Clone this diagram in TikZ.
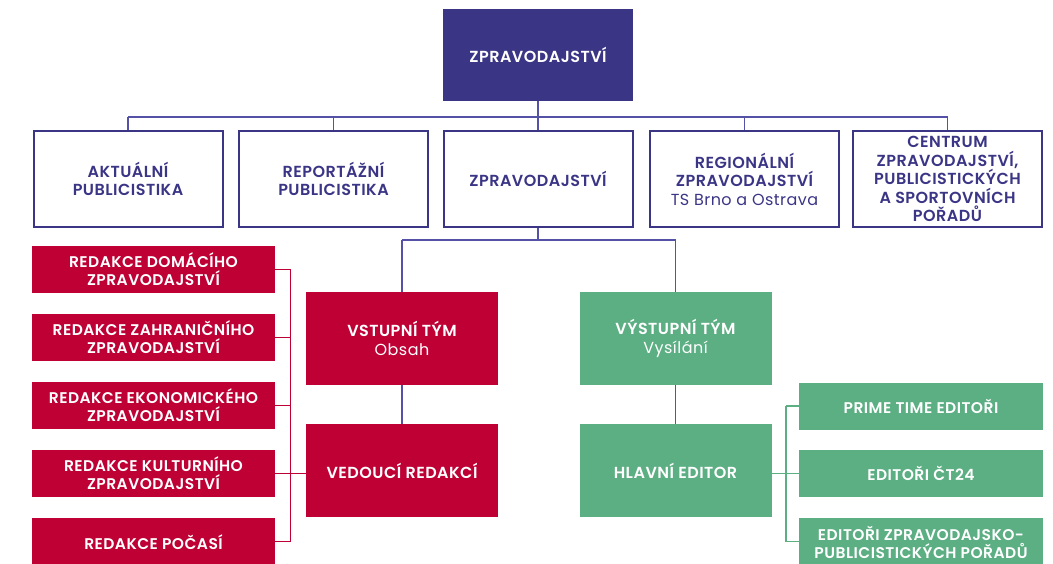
\documentclass[tikz,border=0pt]{standalone}
\usepackage{fontspec}
\setmainfont{Poppins}[BoldFont={Poppins SemiBold}, LetterSpace=3]
\definecolor{ctpurple}{HTML}{3B3586}
\definecolor{ctred}{HTML}{BE0035}
\definecolor{ctgreen}{HTML}{5CAE83}
\definecolor{ctline}{HTML}{5551A6}
\begin{document}
\begin{tikzpicture}[x=1pt,y=-1pt,
  every node/.style={font=\bfseries\fontsize{16}{18.5}\selectfont, align=center, inner sep=0pt},
  topbox/.style={fill=ctpurple, text=white, minimum width=190pt, minimum height=92pt},
  pbox/.style={draw=ctpurple, line width=2pt, text=ctpurple, minimum width=189pt, minimum height=96pt},
  redbox/.style={fill=ctred, text=white, minimum width=192pt, minimum height=93pt},
  greenbox/.style={fill=ctgreen, text=white, minimum width=192pt, minimum height=93pt},
  redsmall/.style={fill=ctred, text=white, minimum width=243pt, minimum height=47pt, font=\bfseries\fontsize{15.5}{18}\selectfont},
  greensmall/.style={fill=ctgreen, text=white, minimum width=244pt, minimum height=47pt, font=\bfseries\fontsize{15.5}{18}\selectfont},
  pline/.style={draw=ctline, line width=1.3pt},
  rline/.style={draw=ctred, line width=1.3pt},
  gline/.style={draw=ctgreen, line width=1.3pt}]
\useasboundingbox (0,0) rectangle (1053,563);
\fill[white] (0,0) rectangle (1053,563);

% top
\node[topbox] (top) at (538,55) {ZPRAVODAJSTVÍ};

% row 2
\node[pbox] (b1) at (128,179) {AKTUÁLNÍ\\PUBLICISTIKA};
\node[pbox] (b2) at (333.5,179) {REPORTÁŽNÍ\\PUBLICISTIKA};
\node[pbox] (b3) at (538,179) {ZPRAVODAJSTVÍ};
\node[pbox] (b4) at (744.5,179) {REGIONÁLNÍ\\ZPRAVODAJSTVÍ\\{\mdseries TS Brno a Ostrava}};
\node[pbox] (b5) at (947.5,179) {CENTRUM\\ZPRAVODAJSTVÍ,\\PUBLICISTICKÝCH\\A SPORTOVNÍCH\\POŘADŮ};

% connectors top
\coordinate (hy) at (538,117);
\draw[pline] (top.south) -- (hy);
\draw[pline] (b1.north |- hy) -- (b5.north |- hy);
\foreach \b in {b1,b2,b3,b4,b5} \draw[pline] (\b.north |- hy) -- (\b.north);

% middle
\node[redbox] (vst) at (402,338.5) {VSTUPNÍ TÝM\\{\mdseries Obsah}};
\node[redbox] (ved) at (402,470.5) {VEDOUCÍ REDAKCÍ};
\node[greenbox] (vys) at (675.5,338.5) {VÝSTUPNÍ TÝM\\{\mdseries Vysílání}};
\node[greenbox] (hla) at (675.5,470.5) {HLAVNÍ EDITOR};

\coordinate (my) at (538,240);
\draw[pline] (b3.south) -- (my);
\draw[pline] (vst.north |- my) -- (vys.north |- my);
\draw[pline] (vst.north |- my) -- (vst.north);
\draw[pline] (vys.north |- my) -- (vys.north);
\draw[pline] (vst.south) -- (ved.north);
\draw[pline] (vys.south) -- (hla.north);

% left red list
\node[redsmall] (r1) at (153.5,269.5) {REDAKCE DOMÁCÍHO\\ZPRAVODAJSTVÍ};
\node[redsmall] (r2) at (153.5,337.5) {REDAKCE ZAHRANIČNÍHO\\ZPRAVODAJSTVÍ};
\node[redsmall] (r3) at (153.5,405.5) {REDAKCE EKONOMICKÉHO\\ZPRAVODAJSTVÍ};
\node[redsmall] (r4) at (153.5,473.5) {REDAKCE KULTURNÍHO\\ZPRAVODAJSTVÍ};
\node[redsmall, minimum height=48pt] (r5) at (153.5,542) {REDAKCE POČASÍ};

\coordinate (rx) at (290.5,269);
\coordinate (r5y) at (290.5,541.5);
\draw[rline] (rx) -- (r5y);
\foreach \r in {r1,r2,r3,r4} \draw[rline] (\r.east) -- (\r.east -| rx);
\draw[rline] (r5.east |- r5y) -- (r5y);
\draw[rline] (r4.east -| rx) -- (ved.west |- r4.east);

% right green list
\node[greensmall] (g1) at (921,406) {PRIME TIME EDITOŘI};
\node[greensmall] (g2) at (921,473.5) {EDITOŘI ČT24};
\node[greensmall, minimum height=48pt] (g3) at (921,542) {EDITOŘI ZPRAVODAJSKO-\\PUBLICISTICKÝCH POŘADŮ};

\coordinate (gx) at (786,406);
\coordinate (g3y) at (786,541.5);
\draw[gline] (gx) -- (g3y);
\draw[gline] (g1.west) -- (g1.west -| gx);
\draw[gline] (hla.east |- g2.west) -- (g2.west);
\draw[gline] (g3.west |- g3y) -- (g3y);
\end{tikzpicture}
\end{document}
